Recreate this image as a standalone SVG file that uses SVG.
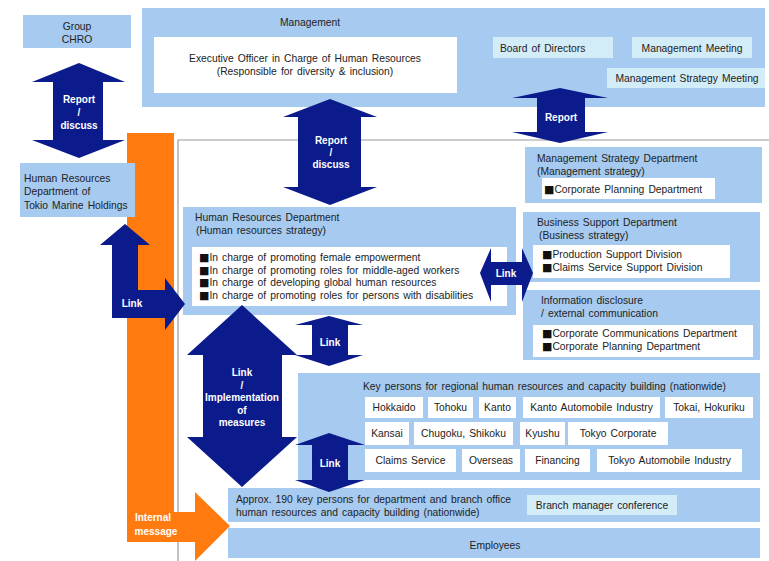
<svg xmlns="http://www.w3.org/2000/svg" width="769" height="561" viewBox="0 0 769 561">
<style>
.box{fill:#a6caf0}
.pale{fill:#d2ecf8}
.wht{fill:#ffffff}
.t{font-family:"Liberation Sans",Arial,sans-serif;font-size:10.3px;word-spacing:1.2px;fill:#222}
.c{text-anchor:middle}
.sq{font-family:"DejaVu Sans",sans-serif;font-size:11px;fill:#111}
.lbl{font-family:"Liberation Sans",Arial,sans-serif;font-size:10px;font-weight:bold;fill:#ffffff;text-anchor:middle}
.nav{fill:#0b1b8c}
.org{fill:#ff7b0f}
.frame{fill:none;stroke:#9a9a9a;stroke-width:1.2}
</style>
<rect width="769" height="561" fill="#ffffff"/>
<path class="frame" d="M178,561 V140 H769"/>
<g id="orange-internal-message">
<polygon class="org" points="127,133 174,133 174,512 195,512 195,492 230,526 195,561 195,542 127,542"/>
<text class="lbl" x="153" y="521">Internal</text>
<text class="lbl" x="156" y="535">message</text>
</g>
<g id="group-chro">
<rect class="box" x="23" y="15" width="108" height="33"/>
<text class="t c" x="77" y="29.5">Group</text>
<text class="t c" x="77" y="42.5">CHRO</text>
</g>
<g id="management">
<rect class="box" x="142" y="8" width="623" height="99"/>
<text class="t" x="280" y="25.5">Management</text>
<rect class="wht" x="154" y="37" width="303" height="56"/>
<text class="t c" x="305" y="62">Executive Officer in Charge of Human Resources</text>
<text class="t c" x="305" y="75">(Responsible for diversity &amp; inclusion)</text>
<rect class="pale" x="493" y="37" width="120" height="21"/>
<text class="t" x="500" y="51.5">Board of Directors</text>
<rect class="pale" x="632" y="37" width="120" height="21"/>
<text class="t c" x="692" y="51.5">Management Meeting</text>
<rect class="pale" x="607" y="68" width="158" height="20"/>
<text class="t c" x="687" y="81.5">Management Strategy Meeting</text>
</g>
<g id="hr-tokio-marine-holdings">
<rect class="box" x="20" y="163" width="115" height="54"/>
<text class="t" x="24" y="181.5">Human Resources</text>
<text class="t" x="24" y="195">Department of</text>
<text class="t" x="24" y="208.5">Tokio Marine Holdings</text>
</g>
<g id="management-strategy-department">
<rect class="box" x="525" y="147" width="237" height="56"/>
<text class="t" x="537" y="161.5">Management Strategy Department</text>
<text class="t" x="537" y="174.5">(Management strategy)</text>
<rect class="wht" x="542" y="178" width="173" height="21"/>
<text class="t" x="544" y="192.5"><tspan class="sq">■</tspan>Corporate Planning Department</text>
</g>
<g id="business-support-department">
<rect class="box" x="523" y="212" width="237" height="70"/>
<text class="t" x="537" y="225.5">Business Support Department</text>
<text class="t" x="539" y="238.5">(Business strategy)</text>
<rect class="wht" x="533" y="245" width="197" height="33"/>
<text class="t" x="542" y="257.5"><tspan class="sq">■</tspan>Production Support Division</text>
<text class="t" x="542" y="270.5"><tspan class="sq">■</tspan>Claims Service Support Division</text>
</g>
<g id="information-disclosure">
<rect class="box" x="523" y="290" width="237" height="70"/>
<text class="t" x="541" y="303.5">Information disclosure</text>
<text class="t" x="541" y="316.5">/ external communication</text>
<rect class="wht" x="533" y="325" width="220" height="32"/>
<text class="t" x="542" y="336.5"><tspan class="sq">■</tspan>Corporate Communications Department</text>
<text class="t" x="542" y="349.5"><tspan class="sq">■</tspan>Corporate Planning Department</text>
</g>
<g id="hr-department">
<rect class="box" x="183" y="207" width="333" height="108"/>
<text class="t" x="195" y="220.5">Human Resources Department</text>
<text class="t" x="196" y="233.5">(Human resources strategy)</text>
<rect class="wht" x="192" y="247" width="315" height="59"/>
<text class="t" x="199" y="260.5"><tspan class="sq">■</tspan>In charge of promoting female empowerment</text>
<text class="t" x="199" y="273.5"><tspan class="sq">■</tspan>In charge of promoting roles for middle-aged workers</text>
<text class="t" x="199" y="285.5"><tspan class="sq">■</tspan>In charge of developing global human resources</text>
<text class="t" x="199" y="298.5"><tspan class="sq">■</tspan>In charge of promoting roles for persons with disabilities</text>
</g>
<g id="key-persons-regional">
<rect class="box" x="298" y="373" width="462" height="107"/>
<text class="t" x="363" y="389.5">Key persons for regional human resources and capacity building (nationwide)</text>
<rect class="wht" x="365" y="397" width="58" height="21"/>
<text class="t c" x="394" y="411">Hokkaido</text>
<rect class="wht" x="428" y="397" width="45" height="21"/>
<text class="t c" x="450.5" y="411">Tohoku</text>
<rect class="wht" x="479" y="397" width="37" height="21"/>
<text class="t c" x="497.5" y="411">Kanto</text>
<rect class="wht" x="523" y="397" width="137" height="21"/>
<text class="t c" x="591.5" y="411">Kanto Automobile Industry</text>
<rect class="wht" x="665" y="397" width="88" height="21"/>
<text class="t c" x="709" y="411">Tokai, Hokuriku</text>
<rect class="wht" x="365" y="422" width="44" height="23"/>
<text class="t c" x="387" y="437">Kansai</text>
<rect class="wht" x="414" y="422" width="99" height="23"/>
<text class="t c" x="463.5" y="437">Chugoku, Shikoku</text>
<rect class="wht" x="520" y="422" width="45" height="23"/>
<text class="t c" x="542.5" y="437">Kyushu</text>
<rect class="wht" x="568" y="422" width="100" height="23"/>
<text class="t c" x="618" y="437">Tokyo Corporate</text>
<rect class="wht" x="365" y="449" width="91" height="23"/>
<text class="t c" x="410.5" y="464">Claims Service</text>
<rect class="wht" x="462" y="449" width="58" height="23"/>
<text class="t c" x="491" y="464">Overseas</text>
<rect class="wht" x="525" y="449" width="65" height="23"/>
<text class="t c" x="557.5" y="464">Financing</text>
<rect class="wht" x="597" y="449" width="145" height="23"/>
<text class="t c" x="669.5" y="464">Tokyo Automobile Industry</text>
</g>
<g id="key-persons-branch">
<rect class="box" x="228" y="488" width="532" height="34"/>
<text class="t" x="236" y="502.5">Approx. 190 key persons for department and branch office</text>
<text class="t" x="236" y="515.5">human resources and capacity building (nationwide)</text>
<rect class="pale" x="527" y="495" width="150" height="20"/>
<text class="t c" x="602" y="508.5">Branch manager conference</text>
</g>
<g id="employees">
<rect class="box" x="228" y="528" width="532" height="30"/>
<text class="t c" x="495" y="548.5">Employees</text>
</g>
<g id="connectors">
<g id="arrow-report-discuss-left">
<polygon class="nav" points="79,63 125,82 103,82 103,140 125,140 79,158 32,140 53,140 53,82 32,82"/>
<text class="lbl" x="79" y="102.5">Report</text>
<text class="lbl" x="79" y="115.5">/</text>
<text class="lbl" x="79" y="128.5">discuss</text>
</g>
<g id="arrow-report-discuss-center">
<polygon class="nav" points="330,99 377,117 361,117 361,187 377,187 330,205 283,187 298,187 298,117 283,117"/>
<text class="lbl" x="331" y="143.5">Report</text>
<text class="lbl" x="331" y="155.5">/</text>
<text class="lbl" x="331" y="167.5">discuss</text>
</g>
<g id="arrow-report-right">
<polygon class="nav" points="560,88 608,98 585,98 585,132 608,132 560,143 512,132 537,132 537,98 512,98"/>
<text class="lbl" x="561" y="120.5">Report</text>
</g>
<g id="arrow-link-holdings">
<polygon class="nav" points="125,224 150,245 138,245 138,290 165,290 165,278 185,304 165,330 165,318 112,318 112,245 100,245"/>
<text class="lbl" x="132" y="306.5">Link</text>
</g>
<g id="arrow-link-business">
<polygon class="nav" points="480,273 491,248 491,262 522,262 522,248 533,273 522,302 522,285 491,285 491,302"/>
<text class="lbl" x="506" y="276.5">Link</text>
</g>
<g id="arrow-link-upper">
<polygon class="nav" points="329,316 363,325 348,325 348,355 363,355 329,366 295,355 312,355 312,325 295,325"/>
<text class="lbl" x="330" y="345.5">Link</text>
</g>
<g id="arrow-link-implementation">
<polygon class="nav" points="242,305 297,355 282,355 282,437 297,437 242,487 187,437 203,437 203,355 187,355"/>
<text class="lbl" x="242" y="375.5">Link</text>
<text class="lbl" x="242" y="388.5">/</text>
<text class="lbl" x="242" y="400.5">Implementation</text>
<text class="lbl" x="242" y="413.5">of</text>
<text class="lbl" x="242" y="425.5">measures</text>
</g>
<g id="arrow-link-lower">
<polygon class="nav" points="329,433 365,445 348,445 348,480 365,480 329,492 295,480 312,480 312,445 295,445"/>
<text class="lbl" x="330" y="466.5">Link</text>
</g>
</g>
</svg>
